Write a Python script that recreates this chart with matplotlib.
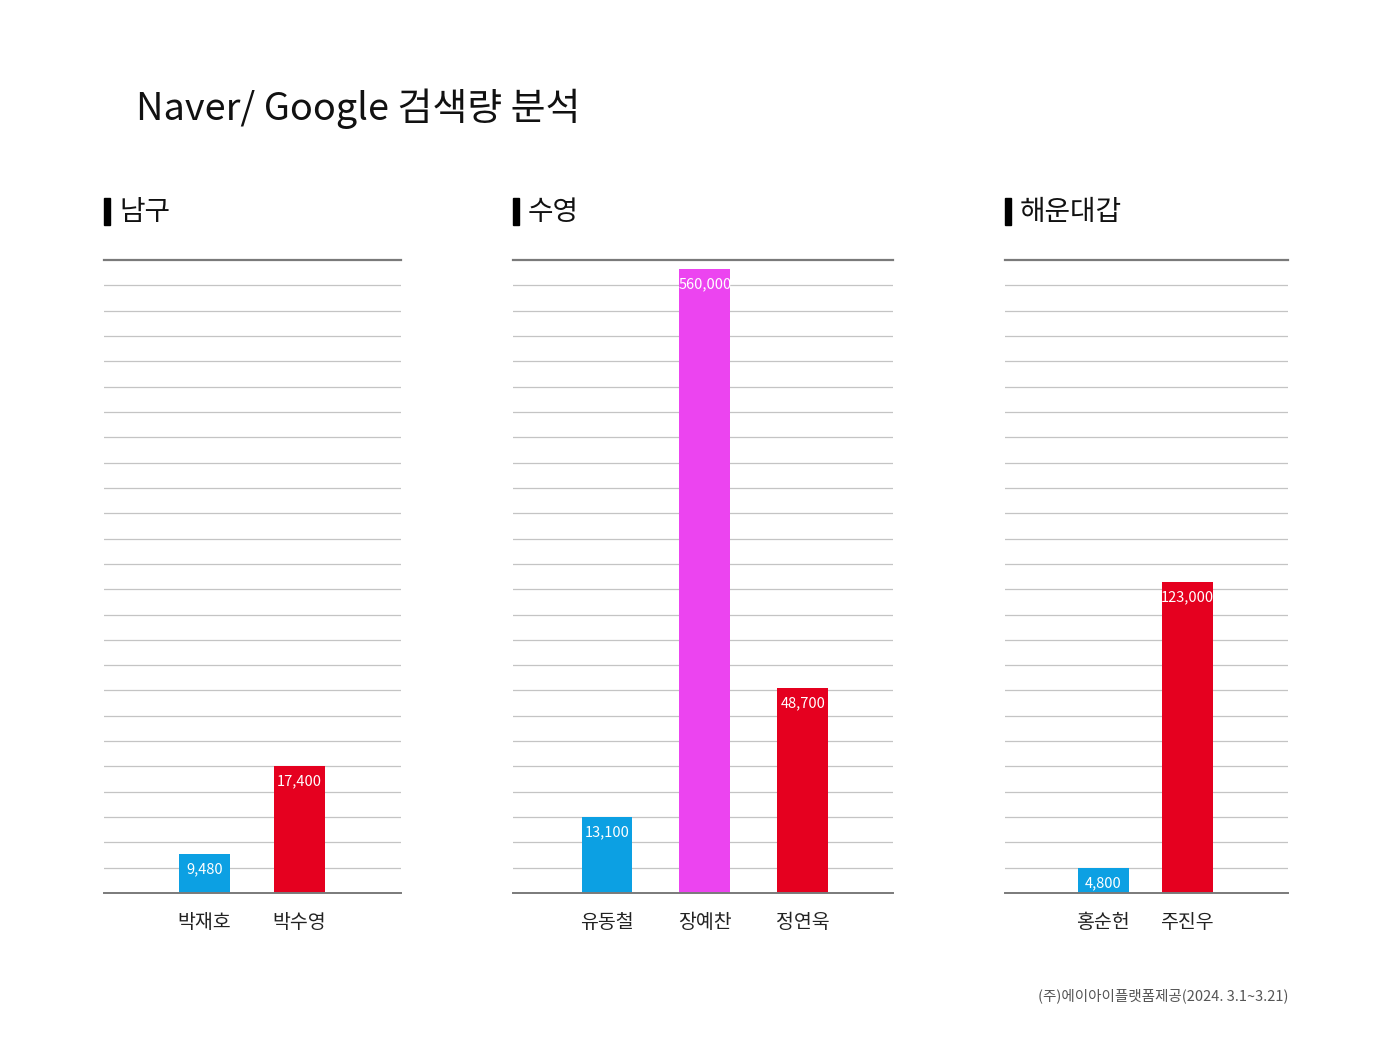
import matplotlib.pyplot as plt
from matplotlib.patches import Rectangle

plt.rcParams['font.family'] = ['Noto Sans CJK KR', 'DejaVu Sans']

# Data (bar heights are in grid-line units, the chart is not to scale)
regions = ['남구', '수영', '해운대갑']
candidates = [['박재호', '박수영'],
              ['유동철', '장예찬', '정연욱'],
              ['홍순헌', '주진우']]
value_labels = [['9,480', '17,400'],
                ['13,100', '560,000', '48,700'],
                ['4,800', '123,000']]
bar_heights = [[1.56, 5.0],
               [3.0, 24.65, 8.1],
               [1.0, 12.3]]
bar_colors = [['#0CA0E3', '#E5001F'],
              ['#0CA0E3', '#EC44F0', '#E5001F'],
              ['#0CA0E3', '#E5001F']]

# Layout of the three panels (figure fractions) and x ranges
panel_boxes = [(0.0743, 0.1575, 0.2121, 0.5972),
               (0.3664, 0.1575, 0.2714, 0.5972),
               (0.7179, 0.1575, 0.2021, 0.5972)]
x_limits = [(-1.058, 2.07), (-0.96, 2.92), (-1.167, 2.20)]
bar_widths = [0.54, 0.52, 0.607]

fig = plt.figure(figsize=(14, 10.6), dpi=100)

fig.text(136 / 1400, 1 - 109 / 1060, 'Naver/ Google 검색량 분석', fontsize=27.3,
         fontweight='medium', ha='left', va='center', color='#111111')

for i, region in enumerate(regions):
    ax = fig.add_axes(panel_boxes[i])
    x = list(range(len(candidates[i])))
    ax.set_xlim(*x_limits[i])
    ax.set_ylim(0, 25)

    # grid lines
    for g in range(1, 25):
        ax.axhline(g, color='#c4c4c4', lw=0.9, zorder=0)
    ax.axhline(25, color='#7a7a7a', lw=1.6, zorder=0, clip_on=False)
    ax.axhline(0, color='#7a7a7a', lw=1.4, zorder=3, clip_on=False)

    bars = ax.bar(x, bar_heights[i], width=bar_widths[i], color=bar_colors[i], zorder=2)
    for b, lab in zip(bars, value_labels[i]):
        ax.annotate(lab, (b.get_x() + b.get_width() / 2, b.get_height()),
                    xytext=(0, -6), textcoords='offset points', ha='center', va='top',
                    color='white', fontsize=10.5)

    ax.set_xticks(x)
    ax.set_xticklabels(candidates[i], fontsize=14, color='#222222')
    ax.tick_params(axis='x', length=0, pad=14)
    ax.set_yticks([])
    for s in ax.spines.values():
        s.set_visible(False)

    # panel heading with a black marker bar
    left = panel_boxes[i][0]
    fig.add_artist(Rectangle((left, 1 - 225 / 1060), 6 / 1400, 27 / 1060,
                             transform=fig.transFigure, color='black'))
    fig.text(left + 15 / 1400, 1 - 212 / 1060, region, fontsize=20,
             ha='left', va='center', color='#111111')

fig.text(1288 / 1400, 1 - 996 / 1060, '(주)에이아이플랫폼제공(2024. 3.1~3.21)',
         fontsize=10.5, ha='right', va='center', color='#555555')

plt.savefig('out.png', dpi=100)
